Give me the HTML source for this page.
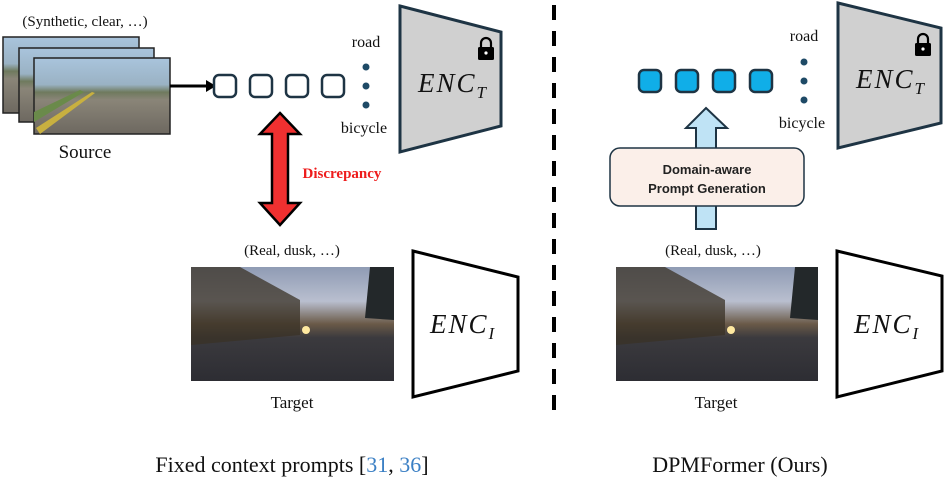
<!DOCTYPE html>
<html><head><meta charset="utf-8"><style>
body{margin:0;background:#fff;width:947px;height:487px;overflow:hidden;position:relative;font-family:"Liberation Serif",serif}
</style></head><body>
<svg width="947" height="487" viewBox="0 0 947 487" xmlns="http://www.w3.org/2000/svg" style="position:absolute;left:0;top:0">
<defs>
<linearGradient id="gta" x1="0" y1="0" x2="0" y2="1">
<stop offset="0" stop-color="#a9c4dc"/><stop offset="0.35" stop-color="#9ab2c4"/><stop offset="0.45" stop-color="#6f7a5e"/><stop offset="0.55" stop-color="#8a8578"/><stop offset="1" stop-color="#6d6860"/>
</linearGradient>
<linearGradient id="dusk" x1="0" y1="0" x2="0" y2="1">
<stop offset="0" stop-color="#8f9bb4"/><stop offset="0.3" stop-color="#b9bfcf"/><stop offset="0.5" stop-color="#6a5a48"/><stop offset="0.62" stop-color="#3b3a3e"/><stop offset="1" stop-color="#2d2d33"/>
</linearGradient>
</defs>
<!-- source stack -->
<rect x="3" y="37" width="136" height="76" fill="url(#gta)" stroke="#222" stroke-width="1.5"/>
<rect x="19" y="48" width="135" height="74" fill="url(#gta)" stroke="#222" stroke-width="1.5"/>
<rect x="34" y="58" width="136" height="76" fill="url(#gta)" stroke="#222" stroke-width="1.5"/>
<polygon points="34,112 80,90 84,92 34,122" fill="#6a8a4a"/>
<polygon points="36,128 92,92 95,93 40,134" fill="#c8b040"/>
<path d="M170 86 H208" stroke="#000" stroke-width="3"/>
<polygon points="206,80 216,86 206,92" fill="#000"/>
<!-- left boxes -->
<g fill="#fff" stroke="#1e3444" stroke-width="2.5">
<rect x="214" y="75" width="22" height="22" rx="5"/><rect x="250" y="75" width="22" height="22" rx="5"/>
<rect x="286" y="75" width="22" height="22" rx="5"/><rect x="322" y="75" width="22" height="22" rx="5"/>
</g>
<g fill="#1e4a66"><circle cx="366" cy="67" r="3.5"/><circle cx="366" cy="86" r="3.5"/><circle cx="366" cy="105" r="3.5"/></g>
<!-- right boxes -->
<g fill="#10aee8" stroke="#1e3444" stroke-width="2.5">
<rect x="639" y="70" width="22" height="22" rx="5"/><rect x="676" y="70" width="22" height="22" rx="5"/>
<rect x="713" y="70" width="22" height="22" rx="5"/><rect x="750" y="70" width="22" height="22" rx="5"/>
</g>
<g fill="#1e4a66"><circle cx="804" cy="62" r="3.5"/><circle cx="804" cy="81" r="3.5"/><circle cx="804" cy="100" r="3.5"/></g>
<!-- ENC_T -->
<polygon points="400,6 501,32 501,126 400,152" fill="#d0d0d0" stroke="#1e3444" stroke-width="3"/>
<polygon points="838,3 941,28 941,123 838,148" fill="#d0d0d0" stroke="#1e3444" stroke-width="3"/>
<!-- locks -->
<g>
<path d="M481 48 v-5 a5 5 0 0 1 10 0 v5" fill="none" stroke="#000" stroke-width="2.2"/><rect x="478" y="47" width="16" height="13" rx="1.5" fill="#000"/><circle cx="486" cy="53" r="1.6" fill="#fff"/>
<path d="M918 44 v-5 a5 5 0 0 1 10 0 v5" fill="none" stroke="#000" stroke-width="2.2"/><rect x="915" y="43" width="16" height="13" rx="1.5" fill="#000"/><circle cx="923" cy="49" r="1.6" fill="#fff"/>
</g>
<!-- red double arrow -->
<polygon points="280,113 300,134 288,134 288,203 300,203 280,225 260,203 272,203 272,134 260,134" fill="#f03030" stroke="#000" stroke-width="2.5" stroke-linejoin="miter"/>
<!-- blue arrow -->
<polygon points="706,108 727,128 716,128 716,229 696,229 696,128 686,128" fill="#bfe3f5" stroke="#1e3444" stroke-width="2"/>
<rect x="610" y="148" width="194" height="58" rx="10" fill="#fbefe9" stroke="#1e3444" stroke-width="1.5"/>
<!-- target images -->
<g id="tg">
<rect x="191" y="267" width="203" height="114" fill="url(#dusk)"/>
<polygon points="191,267 240,267 300,300 300,335 191,345" fill="#3a3226" opacity="0.75"/>
<polygon points="370,267 394,267 394,320 365,318" fill="#23282a"/>
<circle cx="306" cy="330" r="4" fill="#ffe9a0"/>
</g>
<g transform="translate(425,0)">
<rect x="191" y="267" width="202" height="114" fill="url(#dusk)"/>
<polygon points="191,267 240,267 300,300 300,335 191,345" fill="#3a3226" opacity="0.75"/>
<polygon points="370,267 393,267 393,320 365,318" fill="#23282a"/>
<circle cx="306" cy="330" r="4" fill="#ffe9a0"/>
</g>
<!-- ENC_I -->
<polygon points="413,251 518,277 518,371 413,397" fill="#fff" stroke="#000" stroke-width="3"/>
<polygon points="837,251 942,276 942,371 837,397" fill="#fff" stroke="#000" stroke-width="3"/>
<!-- dashed line -->
<path d="M554 5 V420" stroke="#000" stroke-width="4" stroke-dasharray="15 11"/>
<!-- texts -->
<g font-family="Liberation Serif, serif" fill="#111">
<text x="85" y="26" font-size="15" text-anchor="middle">(Synthetic, clear, …)</text>
<text x="85" y="158" font-size="19" text-anchor="middle">Source</text>
<text x="366" y="47" font-size="16" text-anchor="middle">road</text>
<text x="364" y="133" font-size="16" text-anchor="middle">bicycle</text>
<text x="804" y="41" font-size="16" text-anchor="middle">road</text>
<text x="802" y="128" font-size="16" text-anchor="middle">bicycle</text>
<text x="342" y="178" font-size="15" font-weight="bold" fill="#ee1c1c" text-anchor="middle">Discrepancy</text>
<text x="292" y="255" font-size="15" text-anchor="middle">(Real, dusk, …)</text>
<text x="713" y="255" font-size="15" text-anchor="middle">(Real, dusk, …)</text>
<text x="292" y="408" font-size="17" text-anchor="middle">Target</text>
<text x="716" y="408" font-size="17" text-anchor="middle">Target</text>
<text x="292" y="472" font-size="22" text-anchor="middle">Fixed context prompts [<tspan fill="#3a7fc4">31</tspan>, <tspan fill="#3a7fc4">36</tspan>]</text>
<text x="740" y="472" font-size="22" text-anchor="middle">DPMFormer (Ours)</text>
<g font-style="italic" font-size="27" font-family="Liberation Serif, serif" letter-spacing="2">
<text x="418" y="92">ENC<tspan font-size="17" dy="6">T</tspan></text>
<text x="856" y="88">ENC<tspan font-size="17" dy="6">T</tspan></text>
<text x="430" y="333">ENC<tspan font-size="17" dy="6">I</tspan></text>
<text x="854" y="333">ENC<tspan font-size="17" dy="6">I</tspan></text>
</g>
</g>
<g font-family="Liberation Sans, sans-serif" font-weight="bold" font-size="13" fill="#222" text-anchor="middle">
<text x="707" y="174">Domain-aware</text>
<text x="707" y="193">Prompt Generation</text>
</g>
</svg>
</body></html>
